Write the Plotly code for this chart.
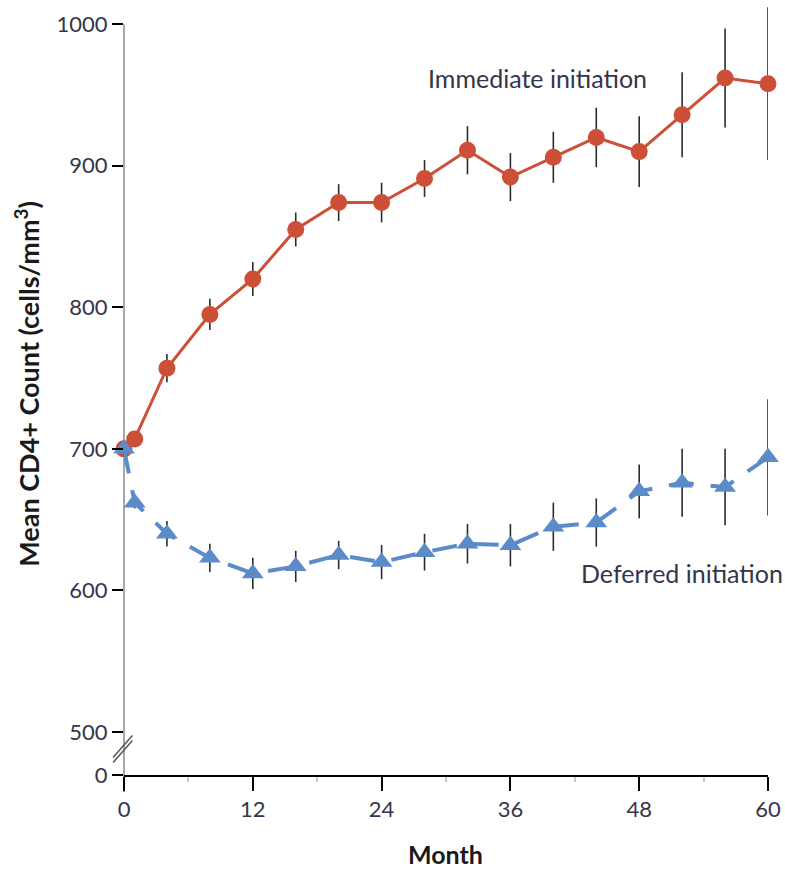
import plotly.graph_objects as go

# ---- data ----
months = [0, 1, 4, 8, 12, 16, 20, 24, 28, 32, 36, 40, 44, 48, 52, 56, 60]
immediate = [700, 707, 757, 795, 820, 855, 874, 874, 891, 911, 892, 906, 920, 910, 936, 962, 958]
immediate_err = [0, 5, 10, 11, 12, 12, 13, 14, 13, 17, 17, 18, 21, 25, 30, 35, 54]
deferred = [700, 662, 640, 623, 612, 617, 625, 620, 627, 633, 632, 645, 648, 670, 676, 673, 694]
deferred_err = [0, 4, 9, 10, 11, 11, 10, 12, 13, 14, 15, 17, 17, 19, 24, 27, 41]

x_ticks = [0, 12, 24, 36, 48, 60]
x_minor = [6, 18, 30, 42, 54]
y_ticks = [500, 600, 700, 800, 900, 1000]
y_tick_labels = ["500", "600", "700", "800", "900", "1000"]

# broken axis: the bottom of the axis stands for 0
Y_ZERO_POS = 469.6
Y_TOP = 1015

RED = "#cd4f37"
BLUE = "#5b8bc9"
ERR = "#2b2b2b"
TXT = "#35354a"
FONT = "Lato, 'Open Sans', sans-serif"

fig = go.Figure()

fig.add_trace(go.Scatter(
    x=months, y=immediate, mode="lines+markers", name="Immediate initiation",
    line=dict(color=RED, width=3),
    marker=dict(symbol="circle", size=17, color=RED),
    error_y=dict(type="data", array=immediate_err, color=ERR, thickness=1.6, width=0),
    cliponaxis=False,
))
fig.add_trace(go.Scatter(
    x=months, y=deferred, mode="lines+markers", name="Deferred initiation",
    line=dict(color=BLUE, width=4, dash="25px,17px"),
    marker=dict(symbol="triangle-up", size=19, color=BLUE),
    error_y=dict(type="data", array=deferred_err, color=ERR, thickness=1.6, width=0),
    cliponaxis=False,
))

def ypaper(v):
    return (v - Y_ZERO_POS) / (Y_TOP - Y_ZERO_POS)

shapes = [
    # y axis line (ends at 1000, extends a bit below the x axis)
    dict(type="line", xref="paper", yref="paper", x0=0, x1=0,
         y0=-0.022, y1=ypaper(1000), line=dict(color="#a8a8a8", width=2), layer="below"),
    # axis break marks
    dict(type="line", xref="paper", yref="y", x0=-0.017, x1=0.013,
         y0=482.0, y1=497.5, line=dict(color="#555555", width=1.5)),
    dict(type="line", xref="paper", yref="y", x0=-0.017, x1=0.013,
         y0=478.5, y1=494.0, line=dict(color="#555555", width=1.5)),
]

PLOT_H = 772.0
def ypx(px):
    # paper coordinate for a pixel row (plot bottom at 775)
    return (775 - px) / PLOT_H

annotations = [
    dict(text="Immediate initiation", x=38.5, y=962, xref="x", yref="y",
         xanchor="center", yanchor="middle",
         showarrow=False, font=dict(family=FONT, size=25, color=TXT)),
    dict(text="Deferred initiation", x=52.0, y=612, xref="x", yref="y",
         xanchor="center", yanchor="middle",
         showarrow=False, font=dict(family=FONT, size=25, color=TXT)),
    dict(text="<b>Mean CD4+ Count (cells/mm<sup>3</sup>)</b>", textangle=-90,
         x=-0.151, y=ypx(384), xref="paper", yref="paper", xanchor="center", yanchor="middle",
         showarrow=False, font=dict(family=FONT, size=27, color="#1a1a1a")),
    dict(text="<b>Month</b>", x=0.499, y=ypx(854), xref="paper", yref="paper",
         xanchor="center", yanchor="middle",
         showarrow=False, font=dict(family=FONT, size=25, color="#1a1a1a")),
]

fig.update_layout(
    width=785, height=870,
    margin=dict(l=124, r=17, t=3, b=95),
    paper_bgcolor="white", plot_bgcolor="white",
    showlegend=False,
    font=dict(family=FONT, color=TXT),
    shapes=shapes,
    annotations=annotations,
    xaxis=dict(
        range=[0, 60], tickvals=x_ticks, ticks="outside", ticklen=14, tickwidth=2,
        tickcolor="black", showline=True, linecolor="black", linewidth=2,
        showgrid=False, zeroline=False, tickfont=dict(family=FONT, size=22, color=TXT),
        minor=dict(tickvals=x_minor, ticks="outside", ticklen=5, tickwidth=1.5, tickcolor="#c8c8c8"),
    ),
    yaxis=dict(
        range=[Y_ZERO_POS, Y_TOP],
        tickvals=[Y_ZERO_POS] + y_ticks, ticktext=["0"] + y_tick_labels,
        ticks="outside", ticklen=11, tickwidth=2, tickcolor="black",
        showline=False, showgrid=False, zeroline=False,
        tickfont=dict(family=FONT, size=22, color=TXT),
    ),
)

fig.write_html("out.html")
